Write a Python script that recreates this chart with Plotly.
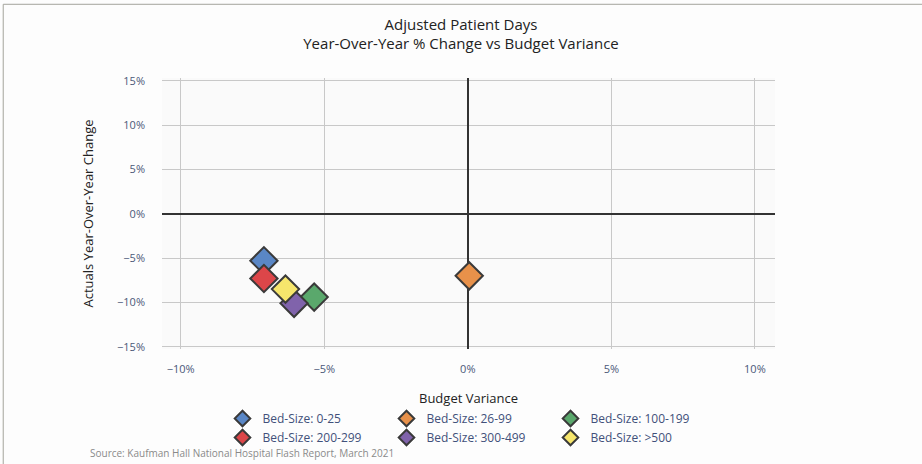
import plotly.graph_objects as go

# values (percent)
groups = ["Bed-Size: 0-25", "Bed-Size: 26-99", "Bed-Size: 100-199",
          "Bed-Size: 200-299", "Bed-Size: 300-499", "Bed-Size: >500"]
budget_variance = [-7.1, 0.05, -5.35, -7.1, -6.05, -6.35]
yoy_change = [-5.3, -7.0, -9.4, -7.3, -10.1, -8.5]
colors = ["#5a87c6", "#e8914a", "#5aa86c", "#dc4649", "#8063ab", "#f6e66c"]

x_ticks = [-10, -5, 0, 5, 10]
y_ticks = [-15, -10, -5, 0, 5, 10, 15]

tick_font = dict(family="Open Sans", size=11, color="#4b5878")

fig = go.Figure()
for name, x, y, c in zip(groups, budget_variance, yoy_change, colors):
    fig.add_trace(go.Scatter(
        x=[x], y=[y], mode="markers", name=name,
        marker=dict(symbol="diamond", size=21, color=c,
                    line=dict(color="#3a3a3a", width=2)),
    ))

# plot area: x 162..775, y 78..349 px
fig.update_layout(
    width=922, height=464,
    margin=dict(l=162, r=147, t=78, b=115, autoexpand=False),
    paper_bgcolor="#fdfdfd",
    plot_bgcolor="#fafafa",
    font=dict(family="Open Sans", color="#222"),
    title=dict(text="Adjusted Patient Days<br>Year-Over-Year % Change vs Budget Variance",
               x=0.5, xanchor="center", y=0.936, yanchor="top",
               font=dict(size=15, color="#222")),
    xaxis=dict(range=[-10.65, 10.7], tickvals=x_ticks,
               ticktext=[f"{v}%".replace("-", "\u2212") for v in x_ticks],
               tickfont=tick_font, showgrid=True, gridcolor="#c8c8c8",
               zeroline=True, zerolinecolor="#333", zerolinewidth=2,
               ticks="", showline=False, ticklabelstandoff=12,
               title=dict(text="Budget Variance", font=dict(size=13, color="#222"), standoff=18)),
    yaxis=dict(range=[-15.25, 15.3], tickvals=y_ticks,
               ticktext=[f"{v}%".replace("-", "\u2212") for v in y_ticks],
               tickfont=tick_font, showgrid=True, gridcolor="#c8c8c8",
               zeroline=True, zerolinecolor="#333", zerolinewidth=2,
               ticks="", showline=False, ticklabelstandoff=16,
               title=dict(text="Actuals Year-Over-Year Change", font=dict(size=13, color="#222"), standoff=20)),
    legend=dict(orientation="h", x=0.5, xanchor="center", y=-0.203, yanchor="top",
                entrywidth=119, entrywidthmode="pixels", tracegroupgap=0,
                itemsizing="constant",
                font=dict(size=12, color="#41507a"), bgcolor="rgba(0,0,0,0)"),
    showlegend=True,
)

fig.add_annotation(text="Source: Kaufman Hall National Hospital Flash Report, March 2021",
                   xref="paper", yref="paper", x=-0.121, y=-0.35, xanchor="left", yanchor="top",
                   showarrow=False, font=dict(size=10, color="#8a8a8a"))

# light frame around the whole figure
fig.add_shape(type="line", xref="paper", yref="paper",
              x0=-0.259, x1=1.245, y0=1.272, y1=1.272, line=dict(color="#a4a49c", width=1))
fig.add_shape(type="line", xref="paper", yref="paper",
              x0=-0.259, x1=-0.259, y0=1.272, y1=-0.43, line=dict(color="#a4a49c", width=1))

# the page's default body margin would shift the figure by 8px
fig.write_html("out.html", config={"displayModeBar": False},
               post_script="document.body.style.margin='0';")
